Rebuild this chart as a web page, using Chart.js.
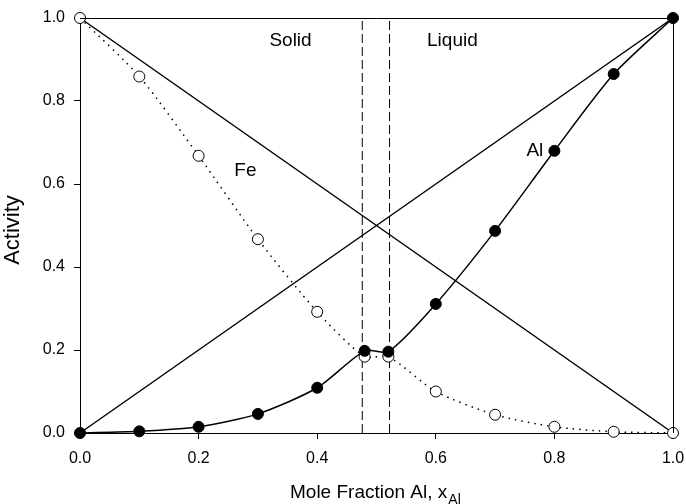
<!DOCTYPE html>
<html><head><meta charset="utf-8">
<script src="https://cdn.jsdelivr.net/npm/chart.js@4/dist/chart.umd.min.js"></script>
<style>html,body{margin:0;padding:0;background:#fff}#wrap{width:686px;height:504px}</style>
</head><body><div id="wrap"><canvas id="c" width="686" height="504"></canvas></div>
<script>
const xAl = [0, 0.1, 0.2, 0.3, 0.4, 0.48, 0.52, 0.6, 0.7, 0.8, 0.9, 1.0];
const activityAl = [0, 0.004, 0.015, 0.046, 0.109, 0.198, 0.196, 0.311, 0.487, 0.68, 0.865, 1.0];
const activityFe = [1.0, 0.859, 0.668, 0.467, 0.292, 0.184, 0.184, 0.100, 0.044, 0.015, 0.003, 0.0];
const raoultAl = [[0, 0], [1, 1]];
const raoultFe = [[0, 1], [1, 0]];
const phaseBounds = [0.476, 0.522];
const xTicks = [0, 0.2, 0.4, 0.6, 0.8, 1.0];
const yTicks = [0, 0.2, 0.4, 0.6, 0.8, 1.0];
const labels = [
  {text: 'Solid', x: 0.355, y: 0.945},
  {text: 'Liquid', x: 0.628, y: 0.945},
  {text: 'Fe', x: 0.279, y: 0.632},
  {text: 'Al', x: 0.767, y: 0.681}
];

const pts = (xs, ys) => xs.map((x, i) => ({x, y: ys[i]}));
const pairs = p => p.map(([x, y]) => ({x, y}));
const FONT = '"Liberation Sans", Arial, sans-serif';

const textPlugin = {
  id: 'texts',
  afterDraw(chart) {
    const {ctx, chartArea: a, scales: {x, y}} = chart;
    ctx.save();
    ctx.strokeStyle = '#000'; ctx.lineWidth = 1;
    ctx.beginPath();
    ctx.moveTo(a.left, a.top + 0.5); ctx.lineTo(a.right + 0.5, a.top + 0.5); ctx.lineTo(a.right + 0.5, a.bottom);
    ctx.stroke();
    ctx.fillStyle = '#000';
    ctx.textAlign = 'center'; ctx.textBaseline = 'middle';
    ctx.font = '19px ' + FONT;
    labels.forEach(l => ctx.fillText(l.text, x.getPixelForValue(l.x), y.getPixelForValue(l.y)));
    // x title with subscript
    const main = 'Mole Fraction Al, x';
    ctx.textAlign = 'left'; ctx.textBaseline = 'alphabetic';
    ctx.font = '19px ' + FONT;
    const w1 = ctx.measureText(main).width;
    const sx = 290;
    ctx.fillText(main, sx, 498);
    ctx.font = '14px ' + FONT;
    ctx.fillText('Al', sx + w1 + 1, 504);
    // y title
    ctx.font = '22px ' + FONT;
    ctx.translate(19, 230);
    ctx.rotate(-Math.PI / 2);
    ctx.textAlign = 'center'; ctx.textBaseline = 'alphabetic';
    ctx.fillText('Activity', 0, 0);
    ctx.restore();
  }
};

new Chart(document.getElementById('c'), {
  type: 'scatter',
  data: {
    datasets: [
      {data: pairs(raoultAl), showLine: true, borderColor: '#000', borderWidth: 1.5, pointRadius: 0, clip: false, order: 5},
      {data: pairs(raoultFe), showLine: true, borderColor: '#000', borderWidth: 1.5, pointRadius: 0, clip: false, order: 5},
      {data: [{x: phaseBounds[0], y: 0}, {x: phaseBounds[0], y: 1}], showLine: true, borderColor: '#000', borderWidth: 1, borderDash: [9, 4], pointRadius: 0, clip: false, order: 4},
      {data: [{x: phaseBounds[1], y: 0}, {x: phaseBounds[1], y: 1}], showLine: true, borderColor: '#000', borderWidth: 1, borderDash: [9, 4], pointRadius: 0, clip: false, order: 4},
      {data: pts(xAl, activityFe), showLine: true, borderColor: '#000', borderWidth: 1.5, borderDash: [1.5, 5],
       tension: 0.25, pointRadius: 5.5, pointBackgroundColor: '#fff', pointBorderColor: '#000', pointBorderWidth: 1, clip: false, order: 2},
      {data: pts(xAl, activityAl), showLine: true, borderColor: '#000', borderWidth: 1.5,
       tension: 0.25, pointRadius: 5.5, pointBackgroundColor: '#000', pointBorderColor: '#000', pointBorderWidth: 1, clip: false, order: 1}
    ]
  },
  options: {
    responsive: false, animation: false, devicePixelRatio: 1,
    layout: {padding: {top: 18, right: 13, left: 0, bottom: 0}},
    plugins: {legend: {display: false}, tooltip: {enabled: false}},
    scales: {
      x: {
        type: 'linear', min: 0, max: 1,
        afterBuildTicks: s => { s.ticks = xTicks.map(v => ({value: v})); },
        afterFit: s => { s.height = 71; s.paddingLeft = 0; s.paddingRight = 0; },
        border: {display: true, color: '#000', width: 1},
        grid: {display: true, drawOnChartArea: false, drawTicks: true, tickLength: 6, color: '#000'},
        ticks: {color: '#000', font: {size: 16, family: FONT}, padding: 10, callback: v => v.toFixed(1), maxRotation: 0}
      },
      y: {
        type: 'linear', min: 0, max: 1,
        afterBuildTicks: s => { s.ticks = yTicks.map(v => ({value: v})); },
        afterFit: s => { s.width = 80; s.paddingTop = 0; s.paddingBottom = 0; },
        border: {display: true, color: '#000', width: 1},
        grid: {display: true, drawOnChartArea: false, drawTicks: true, tickLength: 6, color: '#000'},
        ticks: {color: '#000', font: {size: 16, family: FONT}, padding: 9, callback: v => v.toFixed(1)}
      }
    }
  },
  plugins: [textPlugin]
});
</script></body></html>
